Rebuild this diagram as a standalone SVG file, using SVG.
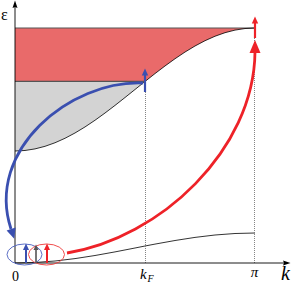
<svg xmlns="http://www.w3.org/2000/svg" width="291" height="283" viewBox="0 0 291 283">
<style>
.thin{fill:none;stroke:#000;stroke-width:0.8}
.dot{fill:none;stroke:#777;stroke-width:0.9;stroke-dasharray:1,1}
.blue{fill:none;stroke:#3a4fb0;stroke-width:2.8}
.red{fill:none;stroke:#ee2228;stroke-width:2.8}
.bh{fill:#3a4fb0}
.rh{fill:#ee2228}
.lbl{font-family:"Liberation Serif",serif;fill:#000}
</style>
<rect width="291" height="283" fill="#fff"/>
<g id="bands">
<path d="M15,28 L255,28 L245,28.53 L235,30.1 L225,32.68 L215,36.24 L205,40.71 L195,46.01 L185,52.06 L175,58.75 L165,65.97 L155,73.58 L145,81.47 L15,81.47 Z" fill="#e96a6a"/>
<path d="M15,81.47 L145,81.47 L135,89.5 L125,97.53 L115,105.42 L105,113.03 L95,120.25 L85,126.94 L75,132.99 L65,138.29 L55,142.76 L45,146.32 L35,148.9 L25,150.47 L15,151 Z" fill="#d3d3d3"/>
<line x1="15" y1="28" x2="255" y2="28" stroke="#555" stroke-width="1.2"/>
<line x1="15" y1="81.47" x2="145" y2="81.47" stroke="#555" stroke-width="1.2"/>
<path class="thin" d="M15,151 L25,150.47 L35,148.9 L45,146.32 L55,142.76 L65,138.29 L75,132.99 L85,126.94 L95,120.25 L105,113.03 L115,105.42 L125,97.53 L135,89.5 L145,81.47 L155,73.58 L165,65.97 L175,58.75 L185,52.06 L195,46.01 L205,40.71 L215,36.24 L225,32.68 L235,30.1 L245,28.53 L255,28"/>
<path class="thin" d="M15,263 L35,262.49 L55,261 L75,258.6 L95,255.5 L115,251.9 L135,248 L145,246 L155,244.1 L175,240.5 L195,237.4 L215,235 L235,233.5 L255,233"/>
</g>
<g id="guides">
<line class="dot" x1="145.5" y1="82" x2="145.5" y2="263"/>
<line class="dot" x1="254.5" y1="30" x2="254.5" y2="263"/>
</g>
<g id="axes">
<line x1="15" y1="263" x2="15" y2="6" stroke="#000" stroke-width="0.9"/>
<polygon points="15,0.5 12.5,8 15,7 17.5,8" fill="#000"/>
<line x1="15" y1="263" x2="286" y2="263" stroke="#000" stroke-width="0.9"/>
<polygon points="290.5,263 283,260.5 284,263 283,265.5" fill="#000"/>
</g>
<g id="states">
<ellipse cx="24.5" cy="254.5" rx="17.5" ry="10.5" fill="none" stroke="#4a5fc0" stroke-width="0.9"/>
<ellipse cx="46.5" cy="254.5" rx="18" ry="10.5" fill="none" stroke="#ee3a3a" stroke-width="0.9"/>
<line x1="26" y1="263" x2="26" y2="249" stroke="#3a4fb0" stroke-width="2"/>
<polygon class="bh" points="26,243.5 23,250 29,250"/>
<line x1="36" y1="263" x2="36" y2="249" stroke="#555" stroke-width="1.6"/>
<polygon points="36,244.5 33.5,250 38.5,250" fill="#555"/>
<line x1="47" y1="263" x2="47" y2="249" stroke="#ee2228" stroke-width="2"/>
<polygon class="rh" points="47,243.5 44,250 50,250"/>
</g>
<g id="connectors">
<path class="blue" d="M143,83 C70,80 -15,150 11,229"/>
<polygon class="bh" points="14.2,238.8 15.6,227.4 6.6,230.6"/>
<line x1="145" y1="92" x2="145" y2="74" stroke="#3a4fb0" stroke-width="2.2"/>
<polygon class="bh" points="145,68.5 141.8,75.5 148.2,75.5"/>
<path class="red" d="M67,253 C160,238 254,150 255,52"/>
<polygon class="rh" points="255,40 249.5,53 260.5,53"/>
<line x1="255" y1="38" x2="255" y2="22" stroke="#ee2228" stroke-width="2.2"/>
<polygon class="rh" points="255,16.5 251.8,23.5 258.2,23.5"/>
</g>
<g id="labels">
<text class="lbl" x="1" y="20" font-size="16">ε</text>
<text class="lbl" x="15.5" y="281" font-size="14" text-anchor="middle">0</text>
<text class="lbl" x="140" y="279" font-size="15" font-style="italic">k</text>
<text class="lbl" x="147.5" y="282" font-size="10" font-style="italic">F</text>
<text class="lbl" x="254.5" y="277" font-size="15" text-anchor="middle" font-style="italic">π</text>
<text class="lbl" x="281" y="280" font-size="20" font-style="italic">k</text>
</g>
</svg>
